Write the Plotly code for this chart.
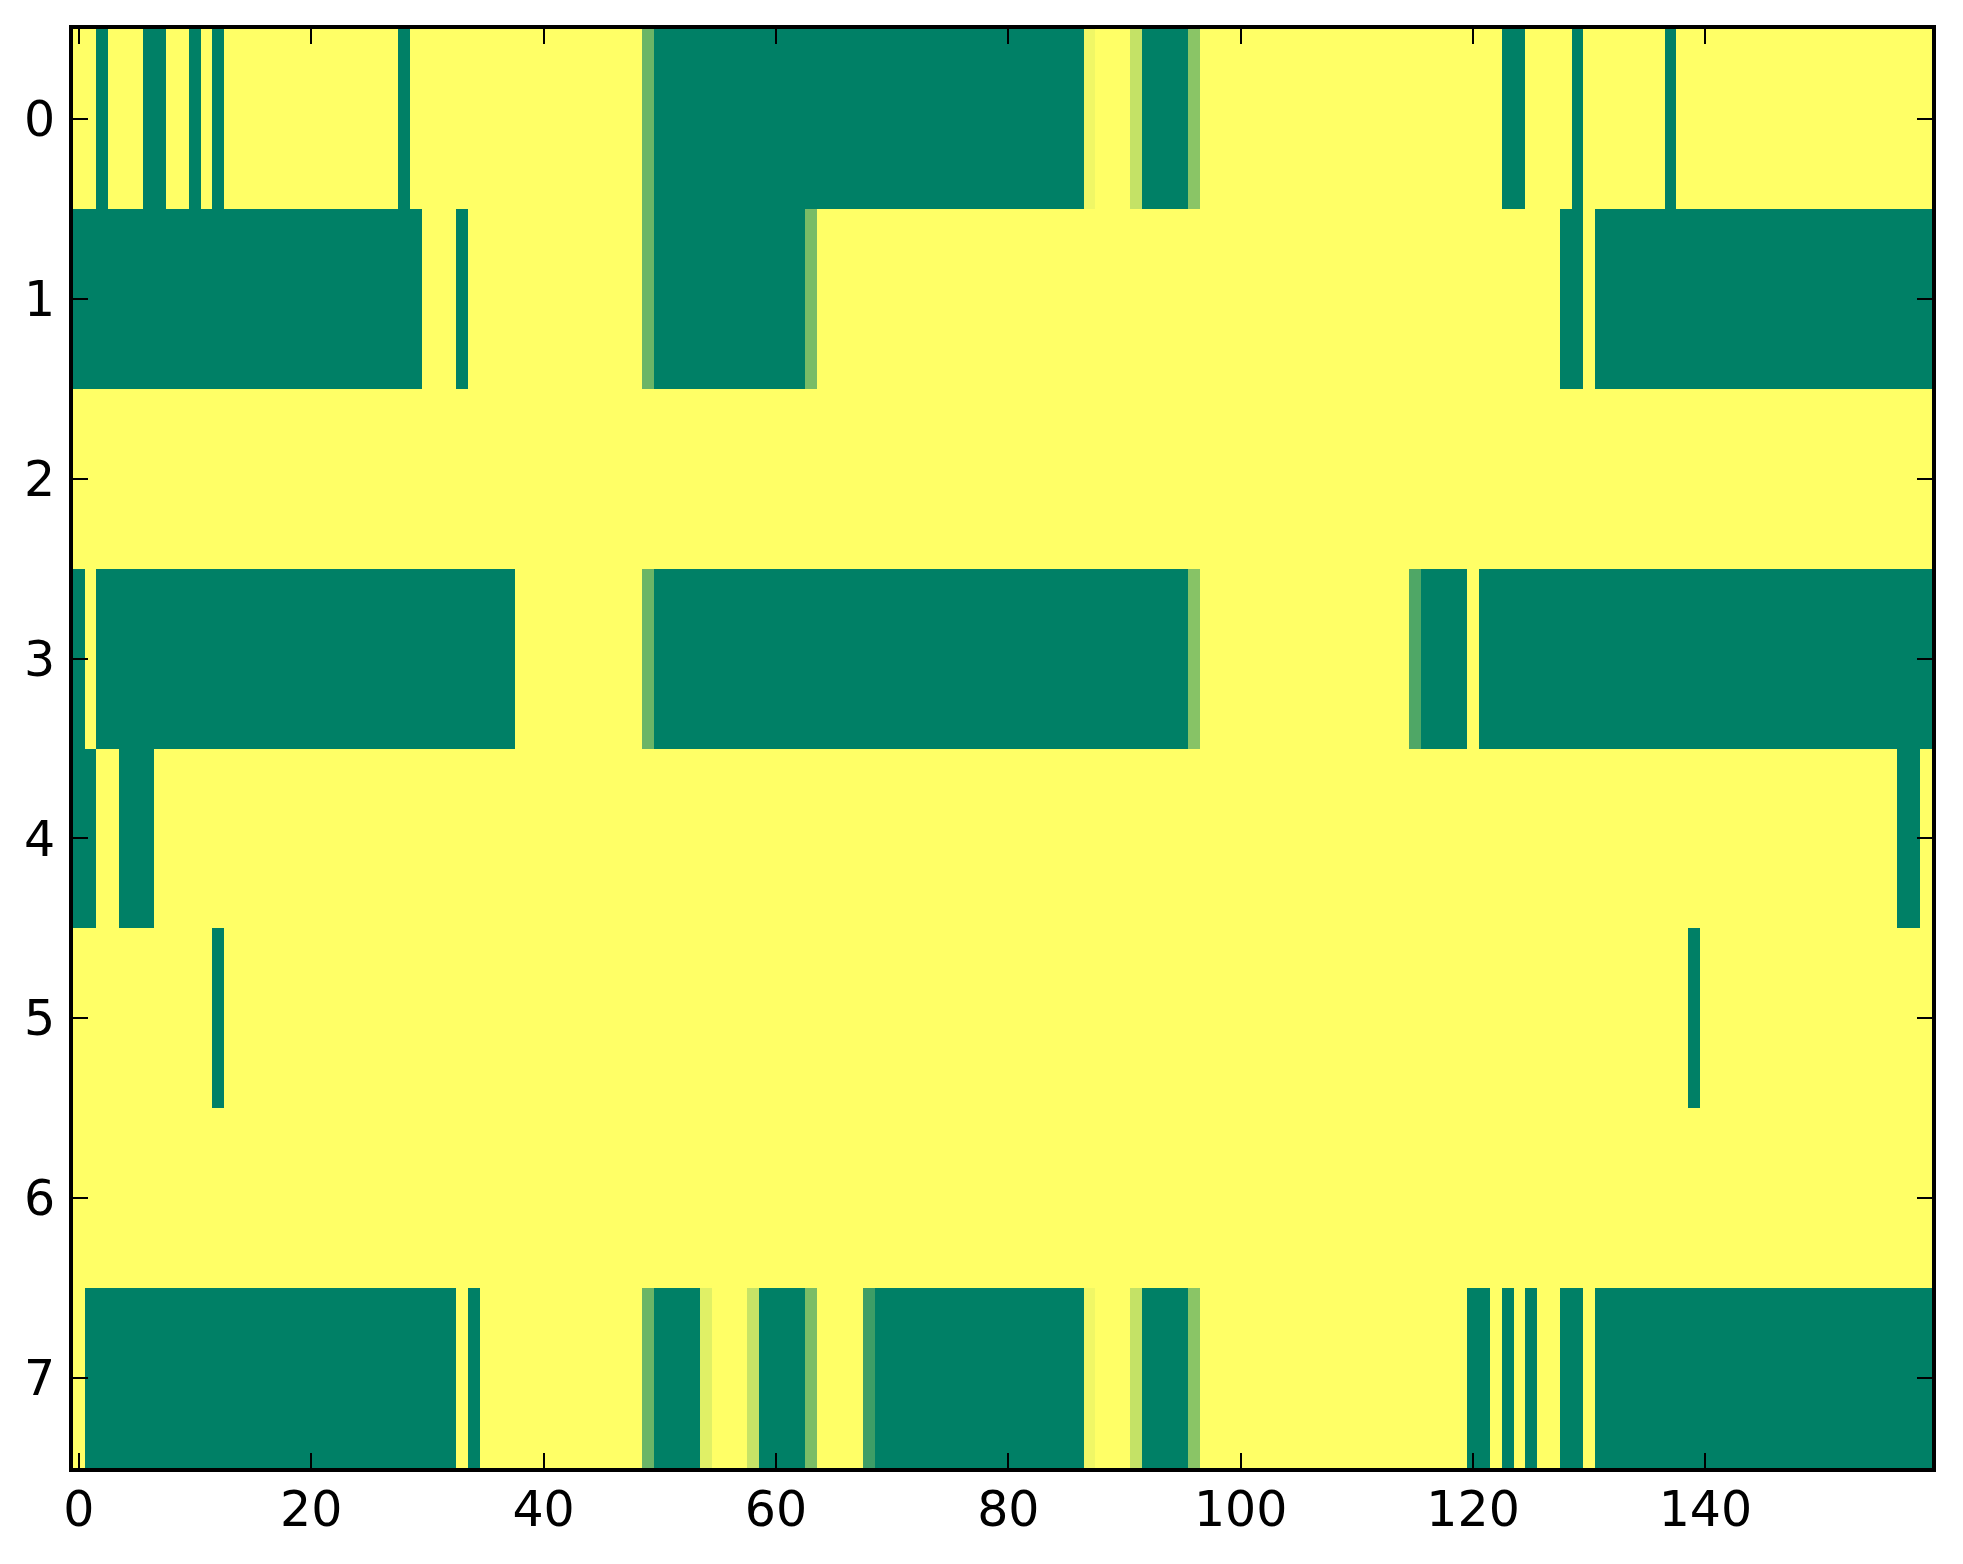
import plotly.graph_objects as go

# Row values (0 = green, 1 = yellow in the "summer" colormap), 160 columns each
row0 = [1,1,0,1,1,1,0,0,1,1,0,1,0,1,1,1,1,1,1,1,
        1,1,1,1,1,1,1,1,0,1,1,1,1,1,1,1,1,1,1,1,
        1,1,1,1,1,1,1,1,1,0.42,0,0,0,0,0,0,0,0,0,0,
        0,0,0,0,0,0,0,0,0,0,0,0,0,0,0,0,0,0,0,0,
        0,0,0,0,0,0,0,0.94,1,1,1,0.77,0,0,0,0,0.54,1,1,1,
        1,1,1,1,1,1,1,1,1,1,1,1,1,1,1,1,1,1,1,1,
        1,1,1,0,0,1,1,1,1,0,1,1,1,1,1,1,1,0,1,1,
        1,1,1,1,1,1,1,1,1,1,1,1,1,1,1,1,1,1,1,1]
row1 = [0,0,0,0,0,0,0,0,0,0,0,0,0,0,0,0,0,0,0,0,
        0,0,0,0,0,0,0,0,0,0,1,1,1,0,1,1,1,1,1,1,
        1,1,1,1,1,1,1,1,1,0.42,0,0,0,0,0,0,0,0,0,0,
        0,0,0,0.47,1,1,1,1,1,1,1,1,1,1,1,1,1,1,1,1,
        1,1,1,1,1,1,1,1,1,1,1,1,1,1,1,1,1,1,1,1,
        1,1,1,1,1,1,1,1,1,1,1,1,1,1,1,1,1,1,1,1,
        1,1,1,1,1,1,1,1,0,0,1,0,0,0,0,0,0,0,0,0,
        0,0,0,0,0,0,0,0,0,0,0,0,0,0,0,0,0,0,0,0]
row2 = [1,1,1,1,1,1,1,1,1,1,1,1,1,1,1,1,1,1,1,1,
        1,1,1,1,1,1,1,1,1,1,1,1,1,1,1,1,1,1,1,1,
        1,1,1,1,1,1,1,1,1,1,1,1,1,1,1,1,1,1,1,1,
        1,1,1,1,1,1,1,1,1,1,1,1,1,1,1,1,1,1,1,1,
        1,1,1,1,1,1,1,1,1,1,1,1,1,1,1,1,1,1,1,1,
        1,1,1,1,1,1,1,1,1,1,1,1,1,1,1,1,1,1,1,1,
        1,1,1,1,1,1,1,1,1,1,1,1,1,1,1,1,1,1,1,1,
        1,1,1,1,1,1,1,1,1,1,1,1,1,1,1,1,1,1,1,1]
row3 = [0,1,0,0,0,0,0,0,0,0,0,0,0,0,0,0,0,0,0,0,
        0,0,0,0,0,0,0,0,0,0,0,0,0,0,0,0,0,0,1,1,
        1,1,1,1,1,1,1,1,1,0.42,0,0,0,0,0,0,0,0,0,0,
        0,0,0,0,0,0,0,0,0,0,0,0,0,0,0,0,0,0,0,0,
        0,0,0,0,0,0,0,0,0,0,0,0,0,0,0,0,0.53,1,1,1,
        1,1,1,1,1,1,1,1,1,1,1,1,1,1,1,0.31,0,0,0,0,
        1,0,0,0,0,0,0,0,0,0,0,0,0,0,0,0,0,0,0,0,
        0,0,0,0,0,0,0,0,0,0,0,0,0,0,0,0,0,0,0,0]
row4 = [0,0,1,1,0,0,0,1,1,1,1,1,1,1,1,1,1,1,1,1,
        1,1,1,1,1,1,1,1,1,1,1,1,1,1,1,1,1,1,1,1,
        1,1,1,1,1,1,1,1,1,1,1,1,1,1,1,1,1,1,1,1,
        1,1,1,1,1,1,1,1,1,1,1,1,1,1,1,1,1,1,1,1,
        1,1,1,1,1,1,1,1,1,1,1,1,1,1,1,1,1,1,1,1,
        1,1,1,1,1,1,1,1,1,1,1,1,1,1,1,1,1,1,1,1,
        1,1,1,1,1,1,1,1,1,1,1,1,1,1,1,1,1,1,1,1,
        1,1,1,1,1,1,1,1,1,1,1,1,1,1,1,1,1,0,0,1]
row5 = [1,1,1,1,1,1,1,1,1,1,1,1,0,1,1,1,1,1,1,1,
        1,1,1,1,1,1,1,1,1,1,1,1,1,1,1,1,1,1,1,1,
        1,1,1,1,1,1,1,1,1,1,1,1,1,1,1,1,1,1,1,1,
        1,1,1,1,1,1,1,1,1,1,1,1,1,1,1,1,1,1,1,1,
        1,1,1,1,1,1,1,1,1,1,1,1,1,1,1,1,1,1,1,1,
        1,1,1,1,1,1,1,1,1,1,1,1,1,1,1,1,1,1,1,1,
        1,1,1,1,1,1,1,1,1,1,1,1,1,1,1,1,1,1,1,0,
        1,1,1,1,1,1,1,1,1,1,1,1,1,1,1,1,1,1,1,1]
row6 = [1,1,1,1,1,1,1,1,1,1,1,1,1,1,1,1,1,1,1,1,
        1,1,1,1,1,1,1,1,1,1,1,1,1,1,1,1,1,1,1,1,
        1,1,1,1,1,1,1,1,1,1,1,1,1,1,1,1,1,1,1,1,
        1,1,1,1,1,1,1,1,1,1,1,1,1,1,1,1,1,1,1,1,
        1,1,1,1,1,1,1,1,1,1,1,1,1,1,1,1,1,1,1,1,
        1,1,1,1,1,1,1,1,1,1,1,1,1,1,1,1,1,1,1,1,
        1,1,1,1,1,1,1,1,1,1,1,1,1,1,1,1,1,1,1,1,
        1,1,1,1,1,1,1,1,1,1,1,1,1,1,1,1,1,1,1,1]
row7 = [1,0,0,0,0,0,0,0,0,0,0,0,0,0,0,0,0,0,0,0,
        0,0,0,0,0,0,0,0,0,0,0,0,0,1,0,1,1,1,1,1,
        1,1,1,1,1,1,1,1,1,0.42,0,0,0,0,0.88,1,1,1,0.78,0,
        0,0,0,0.48,1,1,1,1,0.24,0,0,0,0,0,0,0,0,0,0,0,
        0,0,0,0,0,0,0,0.94,1,1,1,0.77,0,0,0,0,0.54,1,1,1,
        1,1,1,1,1,1,1,1,1,1,1,1,1,1,1,1,1,1,1,1,
        0,0,1,0,1,0,1,1,0,0,1,0,0,0,0,0,0,0,0,0,
        0,0,0,0,0,0,0,0,0,0,0,0,0,0,0,0,0,0,0,0]

rows = [row0, row1, row2, row3, row4, row5, row6, row7]
row_labels = [0, 1, 2, 3, 4, 5, 6, 7]
col_index = list(range(len(row0)))
x_ticks = [0, 20, 40, 60, 80, 100, 120, 140]

summer = [[0.0, "rgb(0,128,102)"], [1.0, "rgb(255,255,102)"]]

fig = go.Figure(go.Heatmap(
    z=rows, x=col_index, y=row_labels,
    colorscale=summer, zmin=0, zmax=1, showscale=False,
    hoverinfo="skip",
))

axis_common = dict(
    showline=True, linecolor="black", linewidth=4, mirror="allticks",
    ticks="inside", ticklen=15, tickwidth=2, tickcolor="black",
    showgrid=False, zeroline=False,
    tickfont=dict(family="DejaVu Sans", size=49, color="black"),
)

fig.update_xaxes(range=[-0.5, len(row0) - 0.5], tickmode="array",
                 tickvals=x_ticks, ticktext=[str(v) for v in x_ticks],
                 ticklabelstandoff=-5, **axis_common)
fig.update_yaxes(range=[len(rows) - 0.5, -0.5], tickmode="array",
                 tickvals=row_labels, ticktext=[str(v) for v in row_labels],
                 ticklabelstandoff=4, **axis_common)

# The page body has an 8px margin, so the figure is sized to fit the window
fig.update_layout(
    width=1955, height=1556,
    margin=dict(l=65, r=31, t=21, b=96, pad=0),
    paper_bgcolor="white", plot_bgcolor="white",
    font=dict(family="DejaVu Sans", size=49, color="black"),
)

fig.write_html("out.html")
